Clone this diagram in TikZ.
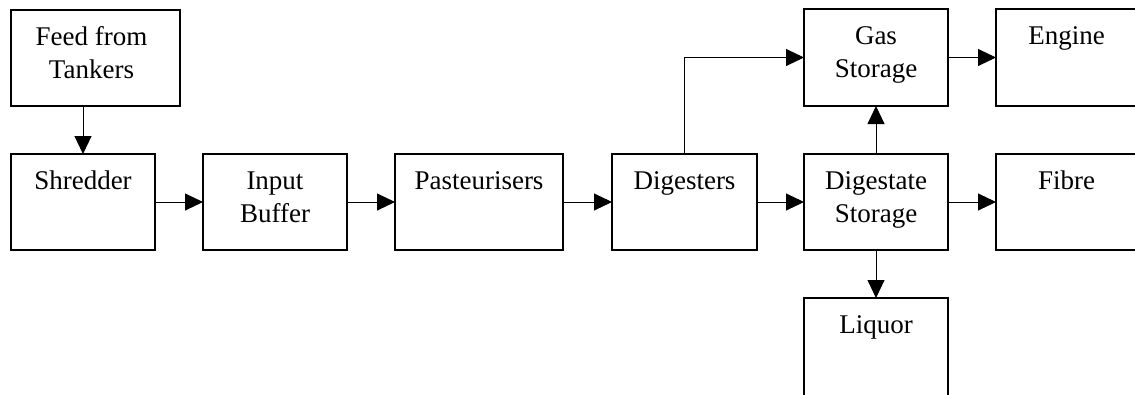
\documentclass[tikz,border=0pt]{standalone}
\usepackage{fontspec}
\setmainfont{Liberation Serif}
\usetikzlibrary{arrows.meta}
\begin{document}
\begin{tikzpicture}[x=1pt,y=1pt,
  box/.style={draw, line width=1.5pt, anchor=north west, inner sep=0pt, outer sep=0pt},
  lbl/.style={anchor=north, yshift=-12pt, inner sep=0pt, align=center, font=\fontsize{27}{33}\selectfont},
  flow/.style={line width=1pt, -{Triangle[length=18pt,width=17pt]}}]
\useasboundingbox (0,0) rectangle (1135,-394);
\clip (0,0) rectangle (1135,-394);
\node[box, minimum width=169, minimum height=96, label={[lbl,xshift=-4pt]north:{\strut Feed from\\Tankers}}] (feed) at (11,-10) {};
\node[box, minimum width=144, minimum height=96, label={[lbl]north:{\strut Shredder}}] (shred) at (11,-154) {};
\node[box, minimum width=144, minimum height=96, label={[lbl]north:{\strut Input\\Buffer}}] (buf) at (203,-154) {};
\node[box, minimum width=168, minimum height=96, label={[lbl]north:{\strut Pasteurisers}}] (past) at (395,-154) {};
\node[box, minimum width=145, minimum height=96, label={[lbl]north:{\strut Digesters}}] (dig) at (612,-154) {};
\node[box, minimum width=144, minimum height=97, label={[lbl]north:{\strut Gas\\Storage}}] (gas) at (804,-9) {};
\node[box, minimum width=144, minimum height=96, label={[lbl]north:{\strut Digestate\\Storage}}] (dst) at (804,-154) {};
\node[box, minimum width=141, minimum height=97, label={[lbl]north:{\strut Engine}}] (eng) at (996,-9) {};
\node[box, minimum width=141, minimum height=96, label={[lbl]north:{\strut Fibre}}] (fib) at (996,-154) {};
\node[box, minimum width=144, minimum height=100, label={[lbl]north:{\strut Liquor}}] (liq) at (804,-298) {};
\draw[flow] (shred.north |- feed.south) -- (shred.north);
\draw[flow] (shred.east) -- (buf.west);
\draw[flow] (buf.east) -- (past.west);
\draw[flow] (past.east) -- (dig.west);
\draw[flow] (dig.east) -- (dst.west);
\draw[flow] (dig.north) |- (gas.west);
\draw[flow] (gas.east) -- (eng.west);
\draw[flow] (dst.north) -- (gas.south);
\draw[flow] (dst.east) -- (fib.west);
\draw[flow] (dst.south) -- (liq.north);
\end{tikzpicture}
\end{document}
